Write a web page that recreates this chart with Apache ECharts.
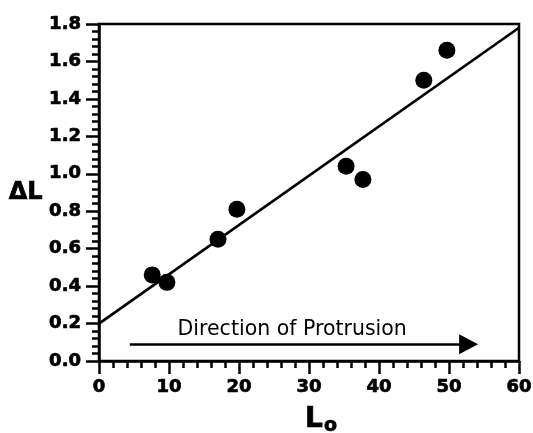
<!DOCTYPE html>
<html>
<head>
<meta charset="utf-8">
<script src="https://cdn.jsdelivr.net/npm/echarts@6/dist/echarts.min.js"></script>
<style>
  html, body { margin: 0; padding: 0; background: #fff; }
  #main { width: 533px; height: 433px; }
</style>
</head>
<body>
<div id="main"></div>
<script>
// measured points
var lengthL0 = [7.6, 9.7, 17.0, 19.7, 35.3, 37.7, 46.4, 49.7];
var deltaL = [0.46, 0.42, 0.65, 0.81, 1.04, 0.97, 1.50, 1.66];
// fitted line
var fitX = [0, 60];
var fitY = [0.20, 1.78];
// arrow "Direction of Protrusion"
var arrowX = [4.4, 52.8];
var arrowY = [0.09, 0.09];
var arrowText = 'Direction of Protrusion';

var font = 'DejaVu Sans';
var points = lengthL0.map(function(x, i) { return [x, deltaL[i]]; });
var fit = fitX.map(function(x, i) { return [x, fitY[i]]; });

var myChart = echarts.init(document.getElementById('main'));
var tickLabel = {
    fontFamily: font,
    fontWeight: 'bold',
    fontSize: 18,
    color: '#000',
    textBorderColor: '#000',
    textBorderWidth: 0.7
};
var option = {
    animation: false,
    backgroundColor: '#fff',
    grid: {
        left: 99,
        right: 14,
        top: 24,
        bottom: 72,
        containLabel: false,
        outerBoundsMode: 'none',
        show: true,
        borderColor: '#000',
        borderWidth: 2.5
    },
    xAxis: {
        type: 'value',
        min: 0,
        max: 60,
        interval: 10,
        name: '{a|L}{b|o}',
        nameLocation: 'middle',
        nameGap: 45,
        nameTextStyle: {
            padding: [0, 0, 0, 24],
            rich: {
                a: { fontFamily: font, fontWeight: 'bold', fontSize: 28, color: '#000', lineHeight: 30, verticalAlign: 'top',
                     textBorderColor: '#000', textBorderWidth: 0.7 },
                b: { fontFamily: font, fontWeight: 'bold', fontSize: 19, color: '#000', lineHeight: 30, verticalAlign: 'bottom', padding: [12, 0, 0, 1],
                     textBorderColor: '#000', textBorderWidth: 0.7 }
            }
        },
        axisLine: { lineStyle: { color: '#000', width: 2.5 } },
        axisTick: { length: 13, lineStyle: { width: 2.5, color: '#000' } },
        minorTick: { show: true, splitNumber: 5, length: 7, lineStyle: { width: 2.5, color: '#000' } },
        axisLabel: Object.assign({ margin: 17 }, tickLabel),
        splitLine: { show: false }
    },
    yAxis: {
        type: 'value',
        min: 0,
        max: 1.8,
        interval: 0.2,
        name: 'ΔL',
        nameLocation: 'middle',
        nameRotate: 0,
        nameGap: 54,
        nameTextStyle: { fontFamily: font, fontWeight: 'bold', fontSize: 24, color: '#000',
                         textBorderColor: '#000', textBorderWidth: 0.7 },
        axisLine: { lineStyle: { color: '#000', width: 2.5 } },
        axisTick: { length: 13, lineStyle: { width: 2.5, color: '#000' } },
        minorTick: { show: true, splitNumber: 5, length: 7, lineStyle: { width: 2.5, color: '#000' } },
        axisLabel: Object.assign({
            margin: 18,
            formatter: function(v) { return v.toFixed(1); }
        }, tickLabel),
        splitLine: { show: false }
    },
    series: [{
        name: 'fit',
        type: 'line',
        data: fit,
        showSymbol: false,
        lineStyle: { color: '#000', width: 2.7 },
        z: 2
    }, {
        name: 'data',
        type: 'scatter',
        data: points,
        symbol: 'circle',
        symbolSize: 17,
        itemStyle: { color: '#000', opacity: 1 },
        z: 3,
        markLine: {
            silent: true,
            symbol: ['none', 'triangle'],
            symbolSize: [20, 19],
            lineStyle: { color: '#000', width: 2.5, type: 'solid' },
            label: {
                show: true,
                position: 'insideMiddleTop',
                distance: 4,
                padding: [0, 14, 0, 0],
                formatter: arrowText,
                fontFamily: font,
                fontSize: 20.5,
                color: '#000'
            },
            data: [[{ coord: [arrowX[0], arrowY[0]] }, { coord: [arrowX[1], arrowY[1]] }]]
        }
    }]
};
myChart.setOption(option);
</script>
</body>
</html>
